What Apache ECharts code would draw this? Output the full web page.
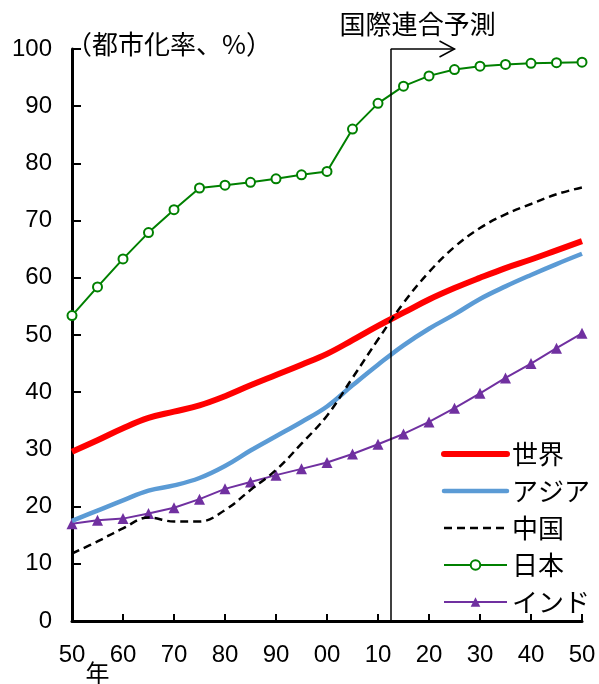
<!DOCTYPE html>
<html><head><meta charset="utf-8">
<script src="https://cdn.jsdelivr.net/npm/echarts@6/dist/echarts.min.js"></script>
<style>html,body{margin:0;padding:0;background:#fff}#c{width:599px;height:684px}</style>
</head><body><div id="c"></div>
<script>
const years = [1950,1955,1960,1965,1970,1975,1980,1985,1990,1995,2000,2005,2010,2015,2020,2025,2030,2035,2040,2045,2050];
const world = [29.6,31.6,33.7,35.5,36.6,37.7,39.3,41.2,43.0,44.8,46.7,49.1,51.6,53.9,56.2,58.2,60.0,61.7,63.2,64.8,66.4];
const asia  = [17.5,19.3,21.1,22.8,23.7,25.0,27.1,29.8,32.3,34.8,37.5,41.2,44.8,48.2,51.1,53.6,56.3,58.5,60.5,62.4,64.2];
const china = [11.8,13.9,16.2,18.1,17.4,17.4,19.4,22.9,26.4,31.0,35.9,42.5,49.2,55.6,61.0,65.4,68.7,71.1,72.9,74.6,75.8];
const japan = [53.4,58.4,63.3,67.9,71.9,75.7,76.2,76.7,77.3,78.0,78.6,86.0,90.5,93.5,95.3,96.4,97.0,97.3,97.5,97.6,97.7];
const india = [17.0,17.6,17.9,18.8,19.8,21.3,23.1,24.3,25.5,26.6,27.7,29.2,30.9,32.7,34.8,37.2,39.8,42.5,45.0,47.7,50.3];
const seriesNames = ['世界','アジア','中国','日本','インド'];
const forecastStart = 2012.5;
const arrowEnd = 2025;
const forecastLabel = '国際連合予測';
const yTitle = '（都市化率、%）';
const xUnit = '年';

const CJK = '"Noto Sans CJK JP", sans-serif';
const NUM = '"Liberation Sans", Arial, sans-serif';
const pair = (arr) => years.map((y,i)=>[y,arr[i]]);

const chart = echarts.init(document.getElementById('c'));
chart.setOption({
  animation:false,
  backgroundColor:'#fff',
  grid:{left:72,right:17,top:49,bottom:63,containLabel:false},
  xAxis:{type:'value',min:1950,max:2050,interval:10,
    axisLine:{onZero:false,lineStyle:{color:'#000',width:3}},
    axisTick:{inside:true,length:7,lineStyle:{color:'#000',width:2}},
    axisLabel:{color:'#000',fontFamily:NUM,fontSize:24,margin:22,
      formatter:v=>String(v%100).padStart(2,'0')},
    splitLine:{show:false}},
  yAxis:{type:'value',min:0,max:100,interval:10,
    axisLine:{show:true,lineStyle:{color:'#000',width:3}},
    axisTick:{show:true,inside:true,length:9,lineStyle:{color:'#000',width:2}},
    axisLabel:{color:'#000',fontFamily:NUM,fontSize:24,margin:20},
    splitLine:{show:false}},
  legend:{orient:'vertical',left:436,top:436,itemWidth:63,itemHeight:12,itemGap:11,
    textStyle:{fontFamily:CJK,fontSize:26,color:'#000'},
    data:[
      {name:seriesNames[0],itemStyle:{opacity:0},lineStyle:{color:'#ff0000',width:6,cap:'round'}},
      {name:seriesNames[1],itemStyle:{opacity:0},lineStyle:{color:'#5B9BD5',width:4.5,cap:'round'}},
      {name:seriesNames[2],itemStyle:{opacity:0},lineStyle:{color:'#000',width:2.5,type:[8,5]}},
      {name:seriesNames[3],lineStyle:{color:'#008000',width:2}},
      {name:seriesNames[4],lineStyle:{color:'#7030A0',width:2}}
    ]},
  series:[
    {name:seriesNames[0],type:'line',data:pair(world),smooth:0.4,showSymbol:false,symbol:'none',
      lineStyle:{color:'#ff0000',width:6},itemStyle:{color:'#ff0000'},z:5,
      markLine:{silent:true,symbol:'none',label:{show:false},
        lineStyle:{color:'#000',width:1.5,type:'solid'},
        data:[[{coord:[forecastStart,100]},{coord:[forecastStart,0]}],
              [{coord:[forecastStart,100]},{coord:[arrowEnd,100]}]]}},
    {name:seriesNames[1],type:'line',data:pair(asia),smooth:0.4,showSymbol:false,symbol:'none',
      lineStyle:{color:'#5B9BD5',width:4.5},itemStyle:{color:'#5B9BD5'},z:4},
    {name:seriesNames[2],type:'line',data:pair(china),smooth:0.4,showSymbol:false,symbol:'none',
      lineStyle:{color:'#000',width:2.5,type:[8,5]},itemStyle:{color:'#000'},z:6},
    {name:seriesNames[3],type:'line',data:pair(japan),symbol:'emptyCircle',symbolSize:9,
      lineStyle:{color:'#008000',width:2},itemStyle:{color:'#008000',borderWidth:2},z:3},
    {name:seriesNames[4],type:'line',data:pair(india),symbol:'triangle',symbolSize:11,
      lineStyle:{color:'#7030A0',width:2},itemStyle:{color:'#7030A0'},z:3}
  ]
});

function addGraphics(){
  const top = chart.convertToPixel({gridIndex:0},[arrowEnd,100]);
  const mid = chart.convertToPixel({gridIndex:0},[(forecastStart+arrowEnd)/2,100]);
  const p50 = chart.convertToPixel({gridIndex:0},[1950,0]);
  const p60 = chart.convertToPixel({gridIndex:0},[1960,0]);
  const p100 = chart.convertToPixel({gridIndex:0},[1950,100]);
  chart.setOption({graphic:[
    {type:'polyline',shape:{points:[[top[0]-15,top[1]-8],[top[0],top[1]],[top[0]-15,top[1]+8]]},
      style:{stroke:'#000',lineWidth:1.5,fill:null},silent:true},
    {type:'text',x:mid[0]-5,y:top[1]-25,style:{text:forecastLabel,fontFamily:CJK,fontSize:26,fill:'#000',align:'center',verticalAlign:'middle'}},
    {type:'text',x:p100[0]-6,y:p100[1]-5,style:{text:yTitle,fontFamily:CJK,fontSize:26,fill:'#000',align:'left',verticalAlign:'middle'}},
    {type:'text',x:(p50[0]+p60[0])/2,y:p50[1]+52,style:{text:xUnit,fontFamily:CJK,fontSize:24,fill:'#000',align:'center',verticalAlign:'middle'}}
  ]});
}
addGraphics();
</script></body></html>
